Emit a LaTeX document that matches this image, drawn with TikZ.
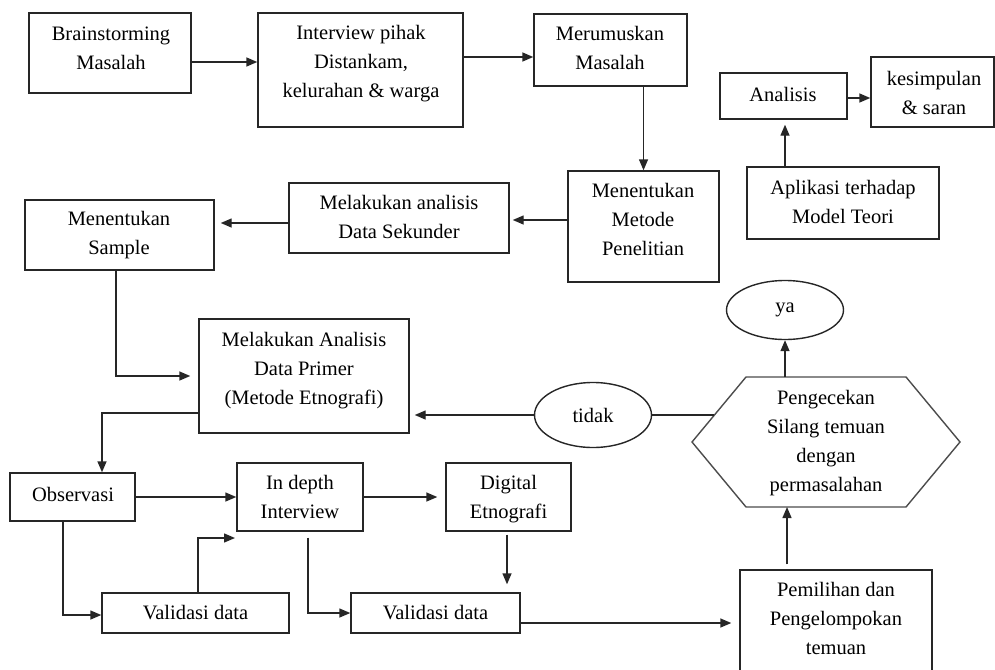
\documentclass[tikz,border=0pt]{standalone}
\usepackage{fontspec}
\setmainfont{Liberation Serif}
\usetikzlibrary{arrows.meta,shapes.geometric}
\begin{document}
\begin{tikzpicture}[x=1pt,y=-1pt,
  line/.style={draw=black!85,line width=1.4pt},
  arr/.style={line,-{Triangle[length=11pt,width=9pt]}},
  box/.style={line,rectangle,inner sep=0pt},
  oval/.style={line,ellipse,inner sep=0pt,font=\fontsize{20.5}{29}\selectfont},
  txt/.style={align=center,inner sep=0pt,font=\fontsize{20.5}{29}\selectfont,
    execute at begin node={\strut},execute at end node={\strut}}]
\useasboundingbox (0,0) rectangle (995,669);
% boxes
\node[box,minimum width=162pt,minimum height=80pt] (brain) at (110,53) {};
\node[box,minimum width=205pt,minimum height=114pt] (intv) at (360.5,70) {};
\node[box,minimum width=153pt,minimum height=72pt] (meru) at (610.5,50) {};
\node[box,minimum width=127pt,minimum height=46pt] (anal) at (783.5,96) {};
\node[box,minimum width=123pt,minimum height=70pt] (kesim) at (932.5,92) {};
\node[box,minimum width=192pt,minimum height=72pt] (apl) at (843,203) {};
\node[box,minimum width=151pt,minimum height=111pt] (metode) at (643.5,226.5) {};
\node[box,minimum width=220pt,minimum height=70pt] (sek) at (399,218) {};
\node[box,minimum width=189pt,minimum height=70pt] (sample) at (119.5,235) {};
\node[box,minimum width=210pt,minimum height=114pt] (primer) at (304,376) {};
\node[box,minimum width=125pt,minimum height=48pt] (obs) at (72.5,497) {};
\node[box,minimum width=126pt,minimum height=68pt] (indepth) at (300,497) {};
\node[box,minimum width=125pt,minimum height=68pt] (digital) at (508.5,497) {};
\node[box,minimum width=187pt,minimum height=40pt] (val1) at (195.5,613) {};
\node[box,minimum width=169pt,minimum height=40pt] (val2) at (435.5,613) {};
\node[box,minimum width=192pt,minimum height=110pt] (pem) at (836,625) {};
\node[oval,minimum width=117pt,minimum height=59pt] (ya) at (785,310) {ya};
\node[oval,minimum width=117pt,minimum height=65pt] (tidak) at (593,415) {tidak};
% hexagon
\coordinate (hTL) at (746,377); \coordinate (hTR) at (906,377);
\coordinate (hR) at (960,442); \coordinate (hBR) at (906,507);
\coordinate (hBL) at (746,507); \coordinate (hL) at (692,442);
\draw[line,draw=black!70] (hTL) -- (hTR) -- (hR) -- (hBR) -- (hBL) -- (hL) -- cycle;
\coordinate (hexTop) at (785,377);
\coordinate (hexBot) at (787,507);
\coordinate (hexLeft) at (714,415);
% texts
\node[txt] (brainT) at (111,52.5) {Brainstorming\\Masalah};
\node[txt] (intvT) at (361,66) {Interview pihak\\Distankam,\\kelurahan \& warga};
\node[txt] (meruT) at (610,52.5) {Merumuskan\\Masalah};
\node[txt] (analT) at (783,95.5) {Analisis};
\node[txt] (kesimT) at (934,97) {kesimpulan\\\& saran};
\node[txt] (aplT) at (843,206) {Aplikasi terhadap\\Model Teori};
\node[txt] (metT) at (643,224) {Menentukan\\Metode\\Penelitian};
\node[txt] (sekT) at (399,221) {Melakukan analisis\\Data Sekunder};
\node[txt] (sampT) at (119,237) {Menentukan\\Sample};
\node[txt] (primT) at (304,373) {Melakukan Analisis\\Data Primer\\(Metode Etnografi)};
\node[txt] (obsT) at (73,495.5) {Observasi};
\node[txt] (indT) at (300,501) {In depth\\Interview};
\node[txt] (digT) at (508.5,501) {Digital\\Etnografi};
\node[txt] (v1T) at (195.5,613.5) {Validasi data};
\node[txt] (v2T) at (435.5,613.5) {Validasi data};
\node[txt] (pemT) at (836,623) {Pemilihan dan\\Pengelompokan\\temuan};
\node[txt] (hexT) at (826,445) {Pengecekan\\Silang temuan\\dengan\\permasalahan};
% connectors
\draw[arr] ([yshift=-9pt]brain.east) -- ([yshift=-9pt]brain.east -| intv.west);
\draw[arr] ([yshift=-7pt]meru.west -| intv.east) -- ([yshift=-7pt]meru.west);
\draw[arr] (meru.south -| metode.north) -- (metode.north);
\draw[arr,shorten >=3pt] ([yshift=-2pt]metode.west |- sek.east) -- ([yshift=-2pt]sek.east);
\draw[arr,shorten >=6pt] ([yshift=-5pt]sek.west) -- ([yshift=-5pt]sek.west -| sample.east);
\draw[arr,shorten >=8pt] ([xshift=-3.5pt]sample.south) |- (primer.west);
\draw[arr] ([yshift=-37pt]primer.west) -| ([xshift=29.5pt]obs.north);
\draw[line] (hexLeft) -- (tidak.east);
\draw[arr,shorten >=5pt] (tidak.west) -- (tidak.west -| primer.east);
\draw[arr] (hexTop) -- (ya.south);
\draw[arr,shorten <=5pt] (pem.north -| hexBot) -- (hexBot);
\draw[arr,shorten >=5pt] ([xshift=1.5pt]apl.north -| anal.south) -- ([xshift=1.5pt]anal.south);
\draw[arr] ([yshift=-2pt]anal.east) -- ([yshift=-2pt]anal.east -| kesim.west);
\draw[arr] (obs.east) -- (obs.east -| indepth.west);
\draw[arr,shorten >=8pt] (indepth.east) -- (indepth.east -| digital.west);
\draw[arr] ([xshift=-9.5pt]obs.south) |- ([yshift=-2pt]val1.west);
\coordinate (vt) at (235,538);
\draw[arr] ([xshift=2.5pt]val1.north) |- (vt);
\draw[arr] ([xshift=8pt,yshift=-6pt]indepth.south) |- (val2.west);
\draw[arr,shorten <=3pt,shorten >=8pt] ([xshift=-1.5pt]digital.south) -- ([xshift=-1.5pt]digital.south |- val2.north);
\draw[arr,shorten >=8pt] ([yshift=-10pt]val2.east) -- ([yshift=-10pt]val2.east -| pem.west);
\end{tikzpicture}
\end{document}
